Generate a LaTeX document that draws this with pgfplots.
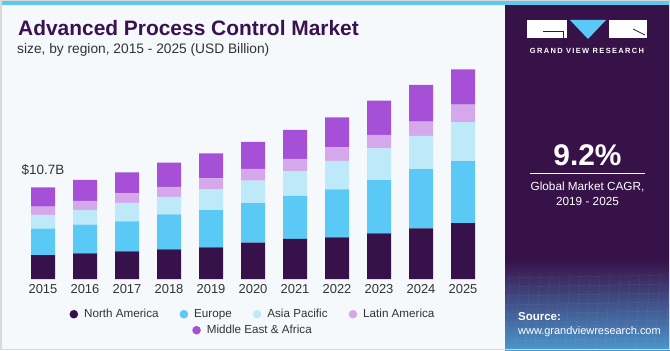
\documentclass[border=0pt]{standalone}
\usepackage{fontspec}
\setmainfont{Liberation Sans}
\usepackage{pgfplots}
\pgfplotsset{compat=1.18}
\usepackage{pgfplotstable}
\definecolor{na}{HTML}{37114A}
\definecolor{eu}{HTML}{5BC9F5}
\definecolor{ap}{HTML}{BDE9F9}
\definecolor{la}{HTML}{D5A8EC}
\definecolor{mea}{HTML}{A650D8}
\definecolor{bg}{HTML}{F5F9FC}
\definecolor{panel}{HTML}{371249}
\definecolor{stripe}{HTML}{5BC8F0}
\definecolor{titlec}{HTML}{3A1250}
\definecolor{txt}{HTML}{333333}
\pgfplotstableread{
x NA EU AP LA MEA
0 2.80 3.07 1.60 0.97 2.26
1 3.00 3.34 1.72 1.05 2.45
2 3.23 3.50 2.14 1.13 2.45
3 3.47 4.08 2.02 1.17 2.84
4 3.70 4.35 2.45 1.25 2.92
5 4.24 4.60 2.64 1.37 3.15
6 4.67 5.02 2.88 1.44 3.38
7 4.87 5.60 3.30 1.60 3.50
8 5.33 6.22 3.70 1.55 4.00
9 5.92 6.89 3.89 1.67 4.28
10 6.53 7.23 4.55 2.02 4.13
}\datatable
\begin{document}
\begin{tikzpicture}
\begin{scope}[x=1bp,y=1bp]
\useasboundingbox (0,0) rectangle (670,350);
\fill[bg] (0,0) rectangle (670,350);
\fill[stripe] (0,345) rectangle (670,350);
\fill[panel] (505,0) rectangle (670,345);
\shade[top color=panel, middle color={rgb,255:red,58;green,62;blue,118}, bottom color={rgb,255:red,75;green,150;blue,205}] (505,0) rectangle (670,90);
\foreach \i in {0,...,8}{\draw[white,opacity=0.08] (505,{\i*9}) -- (670,{\i*9+3});}
\foreach \i in {0,...,16}{\draw[white,opacity=0.08] ({505+\i*10},0) -- ({510+\i*10},75);}
\draw[gray!30, line width=1.5bp] (0.75,0.75) rectangle (669.25,349.25);
% title
\node[anchor=base west, inner sep=0, text=titlec, font=\fontsize{21}{24}\selectfont\bfseries] at (18,315) {Advanced Process Control Market};
\node[anchor=base west, inner sep=0, text=txt, font=\fontsize{13.8}{16}\selectfont] at (17,297) {size, by region, 2015 - 2025 (USD Billion)};
% logo
\fill[white] (527,312) rectangle (567,330);
\draw[panel, line width=1bp] (543,319) -- (563,319) -- (563,312);
\fill[eu] (570,330) -- (606,330) -- (588,311) -- cycle;
\fill[white] (609,312) rectangle (647,330);
\draw[panel, line width=0.8bp] (633,321) -- (645,315);
\node[anchor=center, inner sep=0, text=white, font=\fontsize{7.5}{9}\selectfont\bfseries\addfontfeatures{LetterSpace=18}] at (587,299) {GRAND VIEW RESEARCH};
% CAGR
\node[anchor=base, inner sep=0, text=white, font=\fontsize{30}{34}\selectfont\bfseries] at (587.5,184.5) {9.2\%};
\draw[white, line width=0.8bp] (530,177) -- (645,177);
\node[anchor=base, inner sep=0, text=white, font=\fontsize{11.8}{14}\selectfont] at (587.5,160) {Global Market CAGR,};
\node[anchor=base, inner sep=0, text=white, font=\fontsize{11.8}{14}\selectfont] at (587.5,145) {2019 - 2025};
\node[anchor=base west, inner sep=0, text=white, font=\fontsize{11.5}{14}\selectfont\bfseries] at (518,30) {Source:};
\node[anchor=base west, inner sep=0, text=white, font=\fontsize{11}{14}\selectfont] at (518,16) {www.grandviewresearch.com};
\end{scope}
\begin{axis}[at={(22bp,71bp)}, anchor=south west, scale only axis,
  width=462bp, height=219bp, xmin=-0.5, xmax=10.5, ymin=0, ymax=25.55,
  ybar stacked, bar width=24bp,
  axis line style={draw=none}, major tick length=0pt, ytick=\empty,
  xtick={0,...,10}, xticklabels={2015,2016,2017,2018,2019,2020,2021,2022,2023,2024,2025},
  xticklabel style={font=\fontsize{13}{14}\selectfont, text=txt, yshift=-1.5bp},
  clip=false,
  legend style={at={(0.5,-0.119)}, anchor=north, draw=none, fill=none, legend columns=4,
    font=\fontsize{11.7}{13}\selectfont, text=txt,
    /tikz/every odd column/.append style={column sep=4bp},
    /tikz/every even column/.append style={column sep=19bp}},
  legend image code/.code={\fill (0bp,0bp) circle (4.3bp);},
]
\addplot[fill=na, draw=none] table[x=x,y=NA] {\datatable};
\addlegendentry{North America}
\addplot[fill=eu, draw=none] table[x=x,y=EU] {\datatable};
\addlegendentry{Europe}
\addplot[fill=ap, draw=none] table[x=x,y=AP] {\datatable};
\addlegendentry{Asia Pacific}
\addplot[fill=la, draw=none] table[x=x,y=LA] {\datatable};
\addlegendentry{Latin America}
\addplot[fill=mea, draw=none] table[x=x,y=MEA] {\datatable};
\node[anchor=base, text=txt, font=\fontsize{13.5}{15}\selectfont, inner sep=0] at (axis cs:0,10.7) [yshift=12.3bp] {\$10.7B};
\end{axis}
\begin{axis}[at={(22bp,71bp)}, anchor=south west, scale only axis,
  width=462bp, height=219bp, xmin=0, xmax=1, ymin=0, ymax=1, hide axis,
  legend style={at={(0.5,-0.192)}, anchor=north, draw=none, fill=none,
    font=\fontsize{11.7}{13}\selectfont, text=txt,
    /tikz/every odd column/.append style={column sep=4bp}},
  legend image code/.code={\fill (0bp,0bp) circle (4.3bp);},
]
\addlegendimage{fill=mea, draw=none}
\addlegendentry{Middle East \& Africa}
\end{axis}
\end{tikzpicture}
\end{document}
